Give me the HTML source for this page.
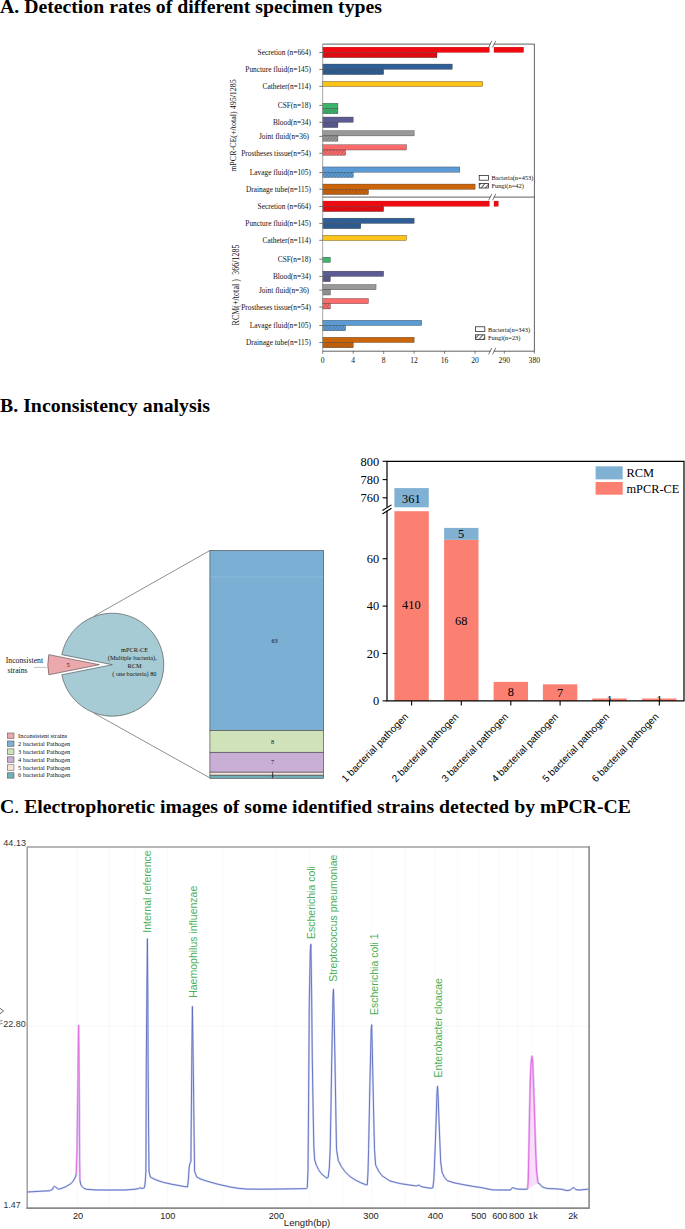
<!DOCTYPE html>
<html><head><meta charset="utf-8"><title>Figure</title>
<style>html,body{margin:0;padding:0;background:#fff;}body{width:685px;height:1229px;overflow:hidden;font-family:"Liberation Serif",serif;}svg{display:block;position:absolute;left:0;top:0;}text{white-space:pre;}</style></head><body>
<svg width="685" height="1229" viewBox="0 0 685 1229">
<rect width="685" height="1229" fill="#fff"/>
<defs>
<pattern id="hat" patternUnits="userSpaceOnUse" width="2.5" height="2.5" patternTransform="rotate(40)"><line x1="0" y1="0" x2="0" y2="2.5" stroke="#1a1a1a" stroke-width="0.5" stroke-opacity="0.85"/></pattern>
<pattern id="hat2" patternUnits="userSpaceOnUse" width="3.3" height="3.3" patternTransform="rotate(40)"><line x1="1" y1="0" x2="1" y2="3.3" stroke="#111" stroke-width="0.75"/></pattern>
<clipPath id="clipB"><rect x="380" y="455" width="310" height="246.3"/></clipPath>
</defs>
<text x="0" y="13.2" font-family="Liberation Serif, serif" font-size="18.6" font-weight="bold" fill="#000" textLength="382" lengthAdjust="spacingAndGlyphs">A. Detection rates of different specimen types</text>
<text x="0" y="412.1" font-family="Liberation Serif, serif" font-size="18.6" font-weight="bold" fill="#000" textLength="210" lengthAdjust="spacingAndGlyphs">B. Inconsistency analysis</text>
<text x="0" y="813.4" font-family="Liberation Serif, serif" font-size="18.6" font-weight="bold" fill="#000" textLength="631" lengthAdjust="spacingAndGlyphs">C<tspan font-weight="normal">.</tspan> Electrophoretic images of some identified strains detected by mPCR-CE</text>
<g id="panelA">
<rect x="322.7" y="47.15" width="166.60" height="5.25" fill="#ee0a10" stroke="#a00" stroke-width="0.3"/>
<rect x="494.0" y="47.15" width="29.63" height="5.25" fill="#ee0a10" stroke="#a00" stroke-width="0.3"/>
<rect x="322.7" y="52.40" width="114.30" height="5.25" fill="#ee0a10" stroke="#333" stroke-width="0.35"/>
<rect x="322.7" y="52.40" width="114.30" height="5.25" fill="url(#hat)"/>
<line x1="319.3" y1="52.50" x2="322.7" y2="52.50" stroke="#222" stroke-width="0.6"/>
<text x="310.9" y="55.35" font-family="Liberation Serif, serif" font-size="7.35" fill="#111" text-anchor="end">Secretion (n=664)</text>
<rect x="322.7" y="64.05" width="129.54" height="5.25" fill="#2f5f96" stroke="#333" stroke-width="0.35"/>
<rect x="322.7" y="69.30" width="60.96" height="5.25" fill="#2f5f96" stroke="#333" stroke-width="0.35"/>
<rect x="322.7" y="69.30" width="60.96" height="5.25" fill="url(#hat)"/>
<line x1="319.3" y1="69.40" x2="322.7" y2="69.40" stroke="#222" stroke-width="0.6"/>
<text x="310.9" y="72.25" font-family="Liberation Serif, serif" font-size="7.35" fill="#111" text-anchor="end">Puncture fluid(n=145)</text>
<rect x="322.7" y="81.35" width="160.02" height="5.25" fill="#fcc419" stroke="#333" stroke-width="0.35"/>
<line x1="319.3" y1="86.40" x2="322.7" y2="86.40" stroke="#222" stroke-width="0.6"/>
<text x="310.9" y="89.25" font-family="Liberation Serif, serif" font-size="7.35" fill="#111" text-anchor="end">Catheter(n=114)</text>
<rect x="322.7" y="103.25" width="15.24" height="5.25" fill="#3bb56a" stroke="#333" stroke-width="0.35"/>
<rect x="322.7" y="108.50" width="15.24" height="5.25" fill="#3bb56a" stroke="#333" stroke-width="0.35"/>
<rect x="322.7" y="108.50" width="15.24" height="5.25" fill="url(#hat)"/>
<line x1="319.3" y1="105.40" x2="322.7" y2="105.40" stroke="#222" stroke-width="0.6"/>
<text x="310.9" y="108.25" font-family="Liberation Serif, serif" font-size="7.35" fill="#111" text-anchor="end">CSF(n=18)</text>
<rect x="322.7" y="117.05" width="30.48" height="5.25" fill="#5c5b94" stroke="#333" stroke-width="0.35"/>
<rect x="322.7" y="122.30" width="15.24" height="5.25" fill="#5c5b94" stroke="#333" stroke-width="0.35"/>
<rect x="322.7" y="122.30" width="15.24" height="5.25" fill="url(#hat)"/>
<line x1="319.3" y1="122.30" x2="322.7" y2="122.30" stroke="#222" stroke-width="0.6"/>
<text x="310.9" y="125.15" font-family="Liberation Serif, serif" font-size="7.35" fill="#111" text-anchor="end">Blood(n=34)</text>
<rect x="322.7" y="130.65" width="91.44" height="5.25" fill="#999999" stroke="#333" stroke-width="0.35"/>
<rect x="322.7" y="135.90" width="15.24" height="5.25" fill="#999999" stroke="#333" stroke-width="0.35"/>
<rect x="322.7" y="135.90" width="15.24" height="5.25" fill="url(#hat)"/>
<line x1="319.3" y1="136.40" x2="322.7" y2="136.40" stroke="#222" stroke-width="0.6"/>
<text x="310.9" y="139.25" font-family="Liberation Serif, serif" font-size="7.35" fill="#111" text-anchor="end">Joint fluid(n=36) </text>
<rect x="322.7" y="144.75" width="83.82" height="5.25" fill="#fb6b6b" stroke="#333" stroke-width="0.35"/>
<rect x="322.7" y="150.00" width="22.86" height="5.25" fill="#fb6b6b" stroke="#333" stroke-width="0.35"/>
<rect x="322.7" y="150.00" width="22.86" height="5.25" fill="url(#hat)"/>
<line x1="319.3" y1="153.30" x2="322.7" y2="153.30" stroke="#222" stroke-width="0.6"/>
<text x="310.9" y="156.15" font-family="Liberation Serif, serif" font-size="7.35" fill="#111" text-anchor="end">Prostheses tissue(n=54)</text>
<rect x="322.7" y="166.95" width="137.16" height="5.25" fill="#5b9bd5" stroke="#333" stroke-width="0.35"/>
<rect x="322.7" y="172.20" width="30.48" height="5.25" fill="#5b9bd5" stroke="#333" stroke-width="0.35"/>
<rect x="322.7" y="172.20" width="30.48" height="5.25" fill="url(#hat)"/>
<line x1="319.3" y1="172.60" x2="322.7" y2="172.60" stroke="#222" stroke-width="0.6"/>
<text x="310.9" y="175.45" font-family="Liberation Serif, serif" font-size="7.35" fill="#111" text-anchor="end">Lavage fluid(n=105)</text>
<rect x="322.7" y="184.05" width="152.40" height="5.25" fill="#cc6409" stroke="#333" stroke-width="0.35"/>
<rect x="322.7" y="189.30" width="45.72" height="5.25" fill="#cc6409" stroke="#333" stroke-width="0.35"/>
<rect x="322.7" y="189.30" width="45.72" height="5.25" fill="url(#hat)"/>
<line x1="319.3" y1="189.20" x2="322.7" y2="189.20" stroke="#222" stroke-width="0.6"/>
<text x="310.9" y="192.05" font-family="Liberation Serif, serif" font-size="7.35" fill="#111" text-anchor="end">Drainage tube(n=115)</text>
<rect x="322.7" y="201.05" width="166.60" height="5.25" fill="#ee0a10" stroke="#a00" stroke-width="0.3"/>
<rect x="494.0" y="201.05" width="4.30" height="5.25" fill="#ee0a10" stroke="#a00" stroke-width="0.3"/>
<rect x="322.7" y="206.30" width="60.96" height="5.25" fill="#ee0a10" stroke="#333" stroke-width="0.35"/>
<rect x="322.7" y="206.30" width="60.96" height="5.25" fill="url(#hat)"/>
<line x1="319.3" y1="206.50" x2="322.7" y2="206.50" stroke="#222" stroke-width="0.6"/>
<text x="310.9" y="209.35" font-family="Liberation Serif, serif" font-size="7.35" fill="#111" text-anchor="end">Secretion (n=664)</text>
<rect x="322.7" y="218.15" width="91.44" height="5.25" fill="#2f5f96" stroke="#333" stroke-width="0.35"/>
<rect x="322.7" y="223.40" width="38.10" height="5.25" fill="#2f5f96" stroke="#333" stroke-width="0.35"/>
<rect x="322.7" y="223.40" width="38.10" height="5.25" fill="url(#hat)"/>
<line x1="319.3" y1="223.40" x2="322.7" y2="223.40" stroke="#222" stroke-width="0.6"/>
<text x="310.9" y="226.25" font-family="Liberation Serif, serif" font-size="7.35" fill="#111" text-anchor="end">Puncture fluid(n=145)</text>
<rect x="322.7" y="235.35" width="83.82" height="5.25" fill="#fcc419" stroke="#333" stroke-width="0.35"/>
<line x1="319.3" y1="240.30" x2="322.7" y2="240.30" stroke="#222" stroke-width="0.6"/>
<text x="310.9" y="243.15" font-family="Liberation Serif, serif" font-size="7.35" fill="#111" text-anchor="end">Catheter(n=114)</text>
<rect x="322.7" y="257.18" width="7.62" height="5.25" fill="#3bb56a" stroke="#333" stroke-width="0.35"/>
<line x1="319.3" y1="259.20" x2="322.7" y2="259.20" stroke="#222" stroke-width="0.6"/>
<text x="310.9" y="262.05" font-family="Liberation Serif, serif" font-size="7.35" fill="#111" text-anchor="end">CSF(n=18)</text>
<rect x="322.7" y="271.15" width="60.96" height="5.25" fill="#5c5b94" stroke="#333" stroke-width="0.35"/>
<rect x="322.7" y="276.40" width="7.62" height="5.25" fill="#5c5b94" stroke="#333" stroke-width="0.35"/>
<rect x="322.7" y="276.40" width="7.62" height="5.25" fill="url(#hat)"/>
<line x1="319.3" y1="276.40" x2="322.7" y2="276.40" stroke="#222" stroke-width="0.6"/>
<text x="310.9" y="279.25" font-family="Liberation Serif, serif" font-size="7.35" fill="#111" text-anchor="end">Blood(n=34)</text>
<rect x="322.7" y="284.50" width="53.34" height="5.25" fill="#999999" stroke="#333" stroke-width="0.35"/>
<rect x="322.7" y="289.75" width="7.62" height="5.25" fill="#999999" stroke="#333" stroke-width="0.35"/>
<rect x="322.7" y="289.75" width="7.62" height="5.25" fill="url(#hat)"/>
<line x1="319.3" y1="290.10" x2="322.7" y2="290.10" stroke="#222" stroke-width="0.6"/>
<text x="310.9" y="292.95" font-family="Liberation Serif, serif" font-size="7.35" fill="#111" text-anchor="end">Joint fluid(n=36) </text>
<rect x="322.7" y="298.45" width="45.72" height="5.25" fill="#fb6b6b" stroke="#333" stroke-width="0.35"/>
<rect x="322.7" y="303.70" width="7.62" height="5.25" fill="#fb6b6b" stroke="#333" stroke-width="0.35"/>
<rect x="322.7" y="303.70" width="7.62" height="5.25" fill="url(#hat)"/>
<line x1="319.3" y1="307.00" x2="322.7" y2="307.00" stroke="#222" stroke-width="0.6"/>
<text x="310.9" y="309.85" font-family="Liberation Serif, serif" font-size="7.35" fill="#111" text-anchor="end">Prostheses tissue(n=54)</text>
<rect x="322.7" y="320.25" width="99.06" height="5.25" fill="#5b9bd5" stroke="#333" stroke-width="0.35"/>
<rect x="322.7" y="325.50" width="22.86" height="5.25" fill="#5b9bd5" stroke="#333" stroke-width="0.35"/>
<rect x="322.7" y="325.50" width="22.86" height="5.25" fill="url(#hat)"/>
<line x1="319.3" y1="325.50" x2="322.7" y2="325.50" stroke="#222" stroke-width="0.6"/>
<text x="310.9" y="328.35" font-family="Liberation Serif, serif" font-size="7.35" fill="#111" text-anchor="end">Lavage fluid(n=105)</text>
<rect x="322.7" y="337.25" width="91.44" height="5.25" fill="#cc6409" stroke="#333" stroke-width="0.35"/>
<rect x="322.7" y="342.50" width="30.48" height="5.25" fill="#cc6409" stroke="#333" stroke-width="0.35"/>
<rect x="322.7" y="342.50" width="30.48" height="5.25" fill="url(#hat)"/>
<line x1="319.3" y1="342.50" x2="322.7" y2="342.50" stroke="#222" stroke-width="0.6"/>
<text x="310.9" y="345.35" font-family="Liberation Serif, serif" font-size="7.35" fill="#111" text-anchor="end">Drainage tube(n=115)</text>
<path d="M322.7 44.1 V351.2" fill="none" stroke="#8e8e8e" stroke-width="0.8"/>
<path d="M322.7 44.1 H534.4 V351.2 H322.7 M322.7 197.1 H534.4" fill="none" stroke="#3a3a3a" stroke-width="0.8"/>
<rect x="490.4" y="43.1" width="3.4" height="2" fill="#fff"/>
<path d="M488.6 47.300000000000004 L491.9 40.800000000000004 M492.5 47.300000000000004 L495.8 40.800000000000004" stroke="#333" stroke-width="0.65" fill="none"/>
<rect x="490.4" y="196.1" width="3.4" height="2" fill="#fff"/>
<path d="M488.6 200.29999999999998 L491.9 193.79999999999998 M492.5 200.29999999999998 L495.8 193.79999999999998" stroke="#333" stroke-width="0.65" fill="none"/>
<rect x="490.4" y="350.2" width="3.4" height="2" fill="#fff"/>
<path d="M488.6 354.4 L491.9 347.9 M492.5 354.4 L495.8 347.9" stroke="#333" stroke-width="0.65" fill="none"/>
<line x1="322.7" y1="351.2" x2="322.7" y2="353.8" stroke="#333" stroke-width="0.6"/>
<text x="322.7" y="362.5" font-family="Liberation Serif, serif" font-size="7.6" fill="#111" text-anchor="middle">0</text>
<line x1="353.2" y1="351.2" x2="353.2" y2="353.8" stroke="#333" stroke-width="0.6"/>
<text x="353.2" y="362.5" font-family="Liberation Serif, serif" font-size="7.6" fill="#111" text-anchor="middle">4</text>
<line x1="383.7" y1="351.2" x2="383.7" y2="353.8" stroke="#333" stroke-width="0.6"/>
<text x="383.7" y="362.5" font-family="Liberation Serif, serif" font-size="7.6" fill="#111" text-anchor="middle">8</text>
<line x1="414.1" y1="351.2" x2="414.1" y2="353.8" stroke="#333" stroke-width="0.6"/>
<text x="414.1" y="362.5" font-family="Liberation Serif, serif" font-size="7.6" fill="#111" text-anchor="middle">12</text>
<line x1="444.6" y1="351.2" x2="444.6" y2="353.8" stroke="#333" stroke-width="0.6"/>
<text x="444.6" y="362.5" font-family="Liberation Serif, serif" font-size="7.6" fill="#111" text-anchor="middle">16</text>
<line x1="475.1" y1="351.2" x2="475.1" y2="353.8" stroke="#333" stroke-width="0.6"/>
<text x="475.1" y="362.5" font-family="Liberation Serif, serif" font-size="7.6" fill="#111" text-anchor="middle">20</text>
<line x1="504.3" y1="351.2" x2="504.3" y2="353.8" stroke="#333" stroke-width="0.6"/>
<text x="504.3" y="362.5" font-family="Liberation Serif, serif" font-size="7.6" fill="#111" text-anchor="middle">290</text>
<line x1="534.3" y1="351.2" x2="534.3" y2="353.8" stroke="#333" stroke-width="0.6"/>
<text x="534.3" y="362.5" font-family="Liberation Serif, serif" font-size="7.6" fill="#111" text-anchor="middle">380</text>
<text transform="translate(236.2,125.5) rotate(-90)" font-family="Liberation Serif, serif" font-size="8.0" fill="#111" text-anchor="middle">mPCR-CE(+/total) 495/1285</text>
<text transform="translate(238.8,325.4) rotate(-90) scale(1,1.28)" font-family="Liberation Serif, serif" font-size="7.8" fill="#111" textLength="80.9" lengthAdjust="spacing">RCM(+/total )  366/1285</text>
<rect x="479.2" y="175.4" width="9.3" height="4.8" fill="#fff" stroke="#222" stroke-width="0.75"/>
<rect x="479.2" y="183.4" width="9.3" height="4.6" fill="#fff" stroke="#222" stroke-width="0.75"/>
<rect x="479.2" y="183.4" width="9.3" height="4.6" fill="url(#hat2)"/>
<text x="491.4" y="180.3" font-family="Liberation Serif, serif" font-size="6.42" fill="#111">Bacteria(n=453)</text>
<text x="491.4" y="188.3" font-family="Liberation Serif, serif" font-size="6.42" fill="#111">Fungi(n=42)</text>
<rect x="475.5" y="326.8" width="9.3" height="4.8" fill="#fff" stroke="#222" stroke-width="0.75"/>
<rect x="475.5" y="334.8" width="9.3" height="4.6" fill="#fff" stroke="#222" stroke-width="0.75"/>
<rect x="475.5" y="334.8" width="9.3" height="4.6" fill="url(#hat2)"/>
<text x="488.0" y="331.7" font-family="Liberation Serif, serif" font-size="6.42" fill="#111">Bacteria(n=343)</text>
<text x="488.0" y="339.7" font-family="Liberation Serif, serif" font-size="6.42" fill="#111">Fungi(n=23)</text>
</g>
<g id="panelBL">
<path d="M93.9 616.2 L209.9 550.5 M93.9 713.1 L209.9 777.9" stroke="#444" stroke-width="0.6" fill="none"/>
<path d="M112.3 664.7 L61.79 654.65 A51.5 51.5 0 1 1 61.79 674.75 Z" fill="#a6cbd4" stroke="#444" stroke-width="0.6"/>
<path d="M99.3 664.7 L48.79 654.65 A51.5 51.5 0 0 0 48.79 674.75 Z" fill="#eba9ae" stroke="#444" stroke-width="0.6"/>
<text x="68" y="666.8" font-family="Liberation Serif, serif" font-size="6.5" fill="#111" text-anchor="middle">5</text>
<text x="24.4" y="663.2" font-family="Liberation Serif, serif" font-size="7.75" fill="#111" text-anchor="middle">Inconsistent</text>
<text x="17.5" y="672.6" font-family="Liberation Serif, serif" font-size="7.75" fill="#111" text-anchor="middle">strains</text>
<line x1="34" y1="667.4" x2="47" y2="667.4" stroke="#666" stroke-width="0.4"/>
<text x="134.6" y="652.4" font-family="Liberation Serif, serif" font-size="6.3" fill="#111" text-anchor="middle">mPCR-CE</text>
<text x="132.3" y="660.2" font-family="Liberation Serif, serif" font-size="6.3" fill="#111" text-anchor="middle">(Multiple bacteria),</text>
<text x="134.6" y="668.0" font-family="Liberation Serif, serif" font-size="6.3" fill="#111" text-anchor="middle">RCM</text>
<text x="134.4" y="675.8" font-family="Liberation Serif, serif" font-size="6.3" fill="#111" text-anchor="middle">( one bacteria) 80</text>
<rect x="7.3" y="733.00" width="6.7" height="5.4" fill="#eba9ae" stroke="#444" stroke-width="0.5"/>
<text x="18.1" y="737.70" font-family="Liberation Serif, serif" font-size="6.4" fill="#111">Inconsistent strains</text>
<rect x="7.3" y="740.95" width="6.7" height="5.4" fill="#7bafd4" stroke="#444" stroke-width="0.5"/>
<text x="18.1" y="745.65" font-family="Liberation Serif, serif" font-size="6.4" fill="#111">2 bacterial Pathogen</text>
<rect x="7.3" y="748.90" width="6.7" height="5.4" fill="#cfe2b9" stroke="#444" stroke-width="0.5"/>
<text x="18.1" y="753.60" font-family="Liberation Serif, serif" font-size="6.4" fill="#111">3 bacterial Pathogen</text>
<rect x="7.3" y="756.85" width="6.7" height="5.4" fill="#c9aed6" stroke="#444" stroke-width="0.5"/>
<text x="18.1" y="761.55" font-family="Liberation Serif, serif" font-size="6.4" fill="#111">4 bacterial Pathogen</text>
<rect x="7.3" y="764.80" width="6.7" height="5.4" fill="#f5e6dc" stroke="#444" stroke-width="0.5"/>
<text x="18.1" y="769.50" font-family="Liberation Serif, serif" font-size="6.4" fill="#111">5 bacterial Pathogen</text>
<rect x="7.3" y="772.75" width="6.7" height="5.4" fill="#6fb0b8" stroke="#444" stroke-width="0.5"/>
<text x="18.1" y="777.45" font-family="Liberation Serif, serif" font-size="6.4" fill="#111">6 bacterial Pathogen</text>
<rect x="209.9" y="550.50" width="113.7" height="179.90" fill="#7bafd4" stroke="#484848" stroke-width="0.65"/>
<text x="274.6" y="642.65" font-family="Liberation Serif, serif" font-size="6.3" fill="#111" text-anchor="middle">63</text>
<rect x="209.9" y="730.40" width="113.7" height="21.90" fill="#cfe2b9" stroke="#484848" stroke-width="0.65"/>
<text x="272.7" y="743.55" font-family="Liberation Serif, serif" font-size="6.3" fill="#111" text-anchor="middle">8</text>
<rect x="209.9" y="752.30" width="113.7" height="19.90" fill="#c9aed6" stroke="#484848" stroke-width="0.65"/>
<text x="272.7" y="764.45" font-family="Liberation Serif, serif" font-size="6.3" fill="#111" text-anchor="middle">7</text>
<rect x="209.9" y="772.20" width="113.7" height="3.00" fill="#f5e6dc" stroke="#484848" stroke-width="0.65"/>
<rect x="209.9" y="775.20" width="113.7" height="3.10" fill="#6fb0b8" stroke="#484848" stroke-width="0.65"/>
<line x1="210.20000000000002" y1="576.9" x2="323.3" y2="576.9" stroke="#9cc6e2" stroke-width="0.5"/>
<text x="272.6" y="776.9" font-family="Liberation Serif, serif" font-size="6.3" fill="#111" text-anchor="middle">1</text>
<line x1="272.6" y1="771.4" x2="272.6" y2="778.5" stroke="#222" stroke-width="0.6"/>
</g>
<g id="panelBR">
<rect x="394.4" y="511.2" width="34.4" height="189.7" fill="#fb8072"/>
<rect x="394.4" y="488.1" width="34.4" height="19.2" fill="#80b1d3"/>
<rect x="444.1" y="539.7" width="34.4" height="161.2" fill="#fb8072"/>
<rect x="444.1" y="527.9" width="34.4" height="11.9" fill="#80b1d3"/>
<rect x="493.6" y="681.9" width="34.4" height="19.0" fill="#fb8072"/>
<rect x="542.9" y="684.3" width="34.4" height="16.6" fill="#fb8072"/>
<rect x="592.3" y="698.5" width="34.4" height="2.4" fill="#fb8072"/>
<rect x="642.1" y="698.5" width="34.4" height="2.4" fill="#fb8072"/>
<text clip-path="url(#clipB)" x="411.3" y="503.1" font-family="Liberation Serif, serif" font-size="12.4" fill="#000" text-anchor="middle">361</text>
<text clip-path="url(#clipB)" x="411.3" y="609.4" font-family="Liberation Serif, serif" font-size="12.4" fill="#000" text-anchor="middle">410</text>
<text clip-path="url(#clipB)" x="461.2" y="538.4" font-family="Liberation Serif, serif" font-size="12.4" fill="#000" text-anchor="middle">5</text>
<text clip-path="url(#clipB)" x="461.2" y="624.5" font-family="Liberation Serif, serif" font-size="12.4" fill="#000" text-anchor="middle">68</text>
<text clip-path="url(#clipB)" x="510.8" y="696.0" font-family="Liberation Serif, serif" font-size="12.4" fill="#000" text-anchor="middle">8</text>
<text clip-path="url(#clipB)" x="560.1" y="696.6" font-family="Liberation Serif, serif" font-size="12.4" fill="#000" text-anchor="middle">7</text>
<text clip-path="url(#clipB)" x="609.5" y="703.6" font-family="Liberation Serif, serif" font-size="12.4" fill="#000" text-anchor="middle">1</text>
<text clip-path="url(#clipB)" x="659.3" y="703.6" font-family="Liberation Serif, serif" font-size="12.4" fill="#000" text-anchor="middle">1</text>
<path d="M387.0 700.9 V461.3 H684.0 V700.9 Z" fill="none" stroke="#000" stroke-width="1.2"/>
<rect x="385.5" y="507.3" width="3" height="3.6" fill="#fff"/>
<path d="M382.4 510.5 L391.5 504.9 M382.4 514.0 L391.5 508.2" stroke="#000" stroke-width="1.1" fill="none"/>
<line x1="382.6" y1="700.9" x2="387.0" y2="700.9" stroke="#000" stroke-width="1.1"/>
<text x="379.2" y="705.1" font-family="Liberation Serif, serif" font-size="12.4" fill="#000" text-anchor="end">0</text>
<line x1="382.6" y1="653.5" x2="387.0" y2="653.5" stroke="#000" stroke-width="1.1"/>
<text x="379.2" y="657.7" font-family="Liberation Serif, serif" font-size="12.4" fill="#000" text-anchor="end">20</text>
<line x1="382.6" y1="606.1" x2="387.0" y2="606.1" stroke="#000" stroke-width="1.1"/>
<text x="379.2" y="610.3" font-family="Liberation Serif, serif" font-size="12.4" fill="#000" text-anchor="end">40</text>
<line x1="382.6" y1="558.7" x2="387.0" y2="558.7" stroke="#000" stroke-width="1.1"/>
<text x="379.2" y="562.9" font-family="Liberation Serif, serif" font-size="12.4" fill="#000" text-anchor="end">60</text>
<line x1="382.6" y1="497.8" x2="387.0" y2="497.8" stroke="#000" stroke-width="1.1"/>
<text x="379.2" y="502.0" font-family="Liberation Serif, serif" font-size="12.4" fill="#000" text-anchor="end">760</text>
<line x1="382.6" y1="479.6" x2="387.0" y2="479.6" stroke="#000" stroke-width="1.1"/>
<text x="379.2" y="483.8" font-family="Liberation Serif, serif" font-size="12.4" fill="#000" text-anchor="end">780</text>
<line x1="382.6" y1="461.3" x2="387.0" y2="461.3" stroke="#000" stroke-width="1.1"/>
<text x="379.2" y="465.5" font-family="Liberation Serif, serif" font-size="12.4" fill="#000" text-anchor="end">800</text>
<line x1="411.6" y1="700.9" x2="411.6" y2="705.6" stroke="#000" stroke-width="1.1"/>
<text transform="translate(409.0,717.2) rotate(-46)" font-family="Liberation Sans, sans-serif" font-size="10.05" fill="#000" text-anchor="end">1 bacterial pathogen</text>
<line x1="461.3" y1="700.9" x2="461.3" y2="705.6" stroke="#000" stroke-width="1.1"/>
<text transform="translate(459.2,717.2) rotate(-46)" font-family="Liberation Sans, sans-serif" font-size="10.05" fill="#000" text-anchor="end">2 bacterial pathogen</text>
<line x1="510.8" y1="700.9" x2="510.8" y2="705.6" stroke="#000" stroke-width="1.1"/>
<text transform="translate(508.9,717.2) rotate(-46)" font-family="Liberation Sans, sans-serif" font-size="10.05" fill="#000" text-anchor="end">3 bacterial pathogen</text>
<line x1="560.1" y1="700.9" x2="560.1" y2="705.6" stroke="#000" stroke-width="1.1"/>
<text transform="translate(559.0,717.2) rotate(-46)" font-family="Liberation Sans, sans-serif" font-size="10.05" fill="#000" text-anchor="end">4 bacterial pathogen</text>
<line x1="609.5" y1="700.9" x2="609.5" y2="705.6" stroke="#000" stroke-width="1.1"/>
<text transform="translate(609.8,717.2) rotate(-46)" font-family="Liberation Sans, sans-serif" font-size="10.05" fill="#000" text-anchor="end">5 bacterial pathogen</text>
<line x1="659.3" y1="700.9" x2="659.3" y2="705.6" stroke="#000" stroke-width="1.1"/>
<text transform="translate(659.3,717.2) rotate(-46)" font-family="Liberation Sans, sans-serif" font-size="10.05" fill="#000" text-anchor="end">6 bacterial pathogen</text>
<rect x="595.6" y="466.3" width="27.1" height="13.1" fill="#80b1d3"/>
<rect x="595.6" y="482.0" width="27.1" height="12.7" fill="#fb8072"/>
<text x="626.4" y="477.4" font-family="Liberation Serif, serif" font-size="12.4" fill="#000">RCM</text>
<text x="626.4" y="492.6" font-family="Liberation Serif, serif" font-size="12.4" fill="#000">mPCR-CE</text>
</g>
<g id="panelC">
<line x1="77.5" y1="847.1" x2="77.5" y2="1208.1" stroke="#eeeeee" stroke-width="0.7" stroke-dasharray="1 1"/>
<line x1="109" y1="847.1" x2="109" y2="1208.1" stroke="#eeeeee" stroke-width="0.7" stroke-dasharray="1 1"/>
<line x1="135" y1="847.1" x2="135" y2="1208.1" stroke="#eeeeee" stroke-width="0.7" stroke-dasharray="1 1"/>
<line x1="167.5" y1="847.1" x2="167.5" y2="1208.1" stroke="#eeeeee" stroke-width="0.7" stroke-dasharray="1 1"/>
<line x1="222.5" y1="847.1" x2="222.5" y2="1208.1" stroke="#eeeeee" stroke-width="0.7" stroke-dasharray="1 1"/>
<line x1="276" y1="847.1" x2="276" y2="1208.1" stroke="#eeeeee" stroke-width="0.7" stroke-dasharray="1 1"/>
<line x1="310" y1="847.1" x2="310" y2="1208.1" stroke="#eeeeee" stroke-width="0.7" stroke-dasharray="1 1"/>
<line x1="343" y1="847.1" x2="343" y2="1208.1" stroke="#eeeeee" stroke-width="0.7" stroke-dasharray="1 1"/>
<line x1="371.5" y1="847.1" x2="371.5" y2="1208.1" stroke="#eeeeee" stroke-width="0.7" stroke-dasharray="1 1"/>
<line x1="405.4" y1="847.1" x2="405.4" y2="1208.1" stroke="#eeeeee" stroke-width="0.7" stroke-dasharray="1 1"/>
<line x1="435.4" y1="847.1" x2="435.4" y2="1208.1" stroke="#eeeeee" stroke-width="0.7" stroke-dasharray="1 1"/>
<line x1="457.8" y1="847.1" x2="457.8" y2="1208.1" stroke="#eeeeee" stroke-width="0.7" stroke-dasharray="1 1"/>
<line x1="478.8" y1="847.1" x2="478.8" y2="1208.1" stroke="#eeeeee" stroke-width="0.7" stroke-dasharray="1 1"/>
<line x1="499.3" y1="847.1" x2="499.3" y2="1208.1" stroke="#eeeeee" stroke-width="0.7" stroke-dasharray="1 1"/>
<line x1="517.7" y1="847.1" x2="517.7" y2="1208.1" stroke="#eeeeee" stroke-width="0.7" stroke-dasharray="1 1"/>
<line x1="531.7" y1="847.1" x2="531.7" y2="1208.1" stroke="#eeeeee" stroke-width="0.7" stroke-dasharray="1 1"/>
<line x1="557.7" y1="847.1" x2="557.7" y2="1208.1" stroke="#eeeeee" stroke-width="0.7" stroke-dasharray="1 1"/>
<line x1="572.7" y1="847.1" x2="572.7" y2="1208.1" stroke="#eeeeee" stroke-width="0.7" stroke-dasharray="1 1"/>
<line x1="27.2" y1="1026.3" x2="589.1" y2="1026.3" stroke="#e6e6e6" stroke-width="0.7" stroke-dasharray="1 1"/>
<path d="M27.2 1208.1 V847.1 H589.1" fill="none" stroke="#a0a0a0" stroke-width="1.5" stroke-linecap="square"/>
<path d="M589.1 847.1 V1208.1 H27.2" fill="none" stroke="#8a8a8a" stroke-width="1.6" stroke-linecap="square"/>
<polyline points="27,1192 35,1191.6 45,1191 49.3,1190.8 52.4,1189.5 53.5,1187 54.7,1186.2 56,1187.6 57.8,1188.6 58.5,1189.3 62,1188.2 66,1186.6 70,1184.2 73,1181.5 75.5,1177 76.3,1173.8 77.0,1150 77.7,1100 78.3,1050 78.6,1025.5 78.9,1050 79.3,1100 79.6,1160 79.9,1180 80.6,1184 81.7,1186.2 84,1188.3 86.4,1189.3 95,1189.9 110,1190.1 125,1190 135,1189.2 138.5,1188.6 139.8,1187.8 141,1188.4 144.1,1188 144.6,1186.9 145.4,1180 145.9,1171.5 146.3,1061.7 146.9,990 147.4,938.8 147.8,990 148.1,1061.7 148.6,1130 149,1171.5 150.3,1177 154,1179 159,1181 163.9,1182.5 172,1184.3 183.7,1186.4 187.6,1186.9 188.5,1178 189.1,1168 189.8,1163.8 190.9,1161.6 191.4,1105.6 191.9,1050 192.4,1006.4 192.9,1040 193.5,1083.7 194.1,1135 194.6,1171.5 196.8,1177 201,1179.2 207.8,1181.4 217,1184 229.8,1186.9 238,1188.3 246,1189 260,1189.2 280,1189 295,1188.8 306.5,1188.6 307.3,1187.5 308,1170 308.6,1100 309.3,1000 310.3,950 310.9,944.3 311.6,990 312.3,1060 313.3,1120 313.9,1148 314.7,1160 316.5,1165.5 318.5,1169.5 320.8,1173 324,1176 327.2,1178.2 328.2,1177 329.3,1168 330.2,1149.5 331.0,1105 331.7,1061.7 333,995.9 333.5,989.3 334.2,1020 335,1061.7 335.8,1110 336.5,1149.5 338.3,1160.5 341.3,1166.5 344.9,1171.5 350,1176.5 355.9,1180.3 361,1182.8 365.7,1184.7 367.3,1184.7 368.0,1172 368.6,1149.5 369.9,1083.7 371.2,1028.8 371.7,1024.8 372.3,1050 373,1083.7 373.8,1120 374.5,1149.5 375.6,1164.9 378.5,1171 382.2,1175.9 390,1181 400.2,1183.6 408,1184.8 414.5,1185.7 416.5,1185.9 418.6,1185.1 421.7,1186.7 426,1187.6 430.9,1188.3 432.9,1187.7 433.9,1178.5 435.4,1141.7 437,1092.7 437.6,1086.2 438.3,1100 439,1121.3 440.7,1162.2 442.1,1172.4 444.5,1177.5 447.2,1180.6 454,1182.8 461.5,1184.3 472,1186.2 482,1187.7 488,1189 492.2,1189.8 500,1190 510.6,1190 511.6,1188.4 512.6,1187.7 514,1188 515.7,1188.8 520,1189.2 526.9,1189.2 527.6,1189 528.3,1180 528.9,1150 529.5,1120 530.2,1085 531.0,1064 531.9,1056.3 532.7,1062 533.5,1085 534.7,1120 535.6,1150 536.6,1172 538,1183 540,1184.2 541.8,1186.6 545,1187.9 547.9,1188.6 555,1188.8 561.9,1189.3 565,1190.2 568,1190.6 570.5,1189.8 572.5,1188.2 573.7,1187.5 574.8,1188.5 575.9,1189.7 580,1190 584,1189.6 588.6,1189.1" fill="none" stroke="#a9b5ec" stroke-width="2.0" stroke-linejoin="round" stroke-opacity="0.55"/>
<polyline points="76.3,1173.8 77.0,1150 77.7,1100 78.3,1050 78.6,1025.5 78.9,1050 79.3,1100 79.6,1160 79.9,1180" fill="none" stroke="#f3b0f3" stroke-width="2.0" stroke-linejoin="round" stroke-opacity="0.6"/>
<polyline points="527.6,1189 528.3,1180 528.9,1150 529.5,1120 530.2,1085 531.0,1064 531.9,1056.3 532.7,1062 533.5,1085 534.7,1120 535.6,1150 536.6,1172 538,1183" fill="none" stroke="#f3b0f3" stroke-width="2.4" stroke-linejoin="round" stroke-opacity="0.6"/>
<polygon points="527.6,1189 528.3,1180 528.9,1150 529.5,1120 530.2,1085 531.0,1064 531.9,1056.3 532.7,1062 533.5,1085 534.7,1120 535.6,1150 536.6,1172 538,1183" fill="#f5c0f5" fill-opacity="0.5"/>
<polyline points="27,1192 35,1191.6 45,1191 49.3,1190.8 52.4,1189.5 53.5,1187 54.7,1186.2 56,1187.6 57.8,1188.6 58.5,1189.3 62,1188.2 66,1186.6 70,1184.2 73,1181.5 75.5,1177 76.3,1173.8" fill="none" stroke="#5c6cbc" stroke-width="0.9" stroke-linejoin="round"/>
<polyline points="79.9,1180 80.6,1184 81.7,1186.2 84,1188.3 86.4,1189.3 95,1189.9 110,1190.1 125,1190 135,1189.2 138.5,1188.6 139.8,1187.8 141,1188.4 144.1,1188 144.6,1186.9 145.4,1180 145.9,1171.5 146.3,1061.7 146.9,990 147.4,938.8 147.8,990 148.1,1061.7 148.6,1130 149,1171.5 150.3,1177 154,1179 159,1181 163.9,1182.5 172,1184.3 183.7,1186.4 187.6,1186.9 188.5,1178 189.1,1168 189.8,1163.8 190.9,1161.6 191.4,1105.6 191.9,1050 192.4,1006.4 192.9,1040 193.5,1083.7 194.1,1135 194.6,1171.5 196.8,1177 201,1179.2 207.8,1181.4 217,1184 229.8,1186.9 238,1188.3 246,1189 260,1189.2 280,1189 295,1188.8 306.5,1188.6 307.3,1187.5 308,1170 308.6,1100 309.3,1000 310.3,950 310.9,944.3 311.6,990 312.3,1060 313.3,1120 313.9,1148 314.7,1160 316.5,1165.5 318.5,1169.5 320.8,1173 324,1176 327.2,1178.2 328.2,1177 329.3,1168 330.2,1149.5 331.0,1105 331.7,1061.7 333,995.9 333.5,989.3 334.2,1020 335,1061.7 335.8,1110 336.5,1149.5 338.3,1160.5 341.3,1166.5 344.9,1171.5 350,1176.5 355.9,1180.3 361,1182.8 365.7,1184.7 367.3,1184.7 368.0,1172 368.6,1149.5 369.9,1083.7 371.2,1028.8 371.7,1024.8 372.3,1050 373,1083.7 373.8,1120 374.5,1149.5 375.6,1164.9 378.5,1171 382.2,1175.9 390,1181 400.2,1183.6 408,1184.8 414.5,1185.7 416.5,1185.9 418.6,1185.1 421.7,1186.7 426,1187.6 430.9,1188.3 432.9,1187.7 433.9,1178.5 435.4,1141.7 437,1092.7 437.6,1086.2 438.3,1100 439,1121.3 440.7,1162.2 442.1,1172.4 444.5,1177.5 447.2,1180.6 454,1182.8 461.5,1184.3 472,1186.2 482,1187.7 488,1189 492.2,1189.8 500,1190 510.6,1190 511.6,1188.4 512.6,1187.7 514,1188 515.7,1188.8 520,1189.2 526.9,1189.2 527.6,1189" fill="none" stroke="#5c6cbc" stroke-width="0.9" stroke-linejoin="round"/>
<polyline points="538,1183 540,1184.2 541.8,1186.6 545,1187.9 547.9,1188.6 555,1188.8 561.9,1189.3 565,1190.2 568,1190.6 570.5,1189.8 572.5,1188.2 573.7,1187.5 574.8,1188.5 575.9,1189.7 580,1190 584,1189.6 588.6,1189.1" fill="none" stroke="#5c6cbc" stroke-width="0.9" stroke-linejoin="round"/>
<polyline points="76.3,1173.8 77.0,1150 77.7,1100 78.3,1050 78.6,1025.5 78.9,1050 79.3,1100 79.6,1160 79.9,1180" fill="none" stroke="#e272e2" stroke-width="1.0" stroke-linejoin="round"/>
<polyline points="527.6,1189 528.3,1180 528.9,1150 529.5,1120 530.2,1085 531.0,1064 531.9,1056.3 532.7,1062 533.5,1085 534.7,1120 535.6,1150 536.6,1172 538,1183" fill="none" stroke="#e272e2" stroke-width="1.1" stroke-linejoin="round"/>
<text transform="translate(150.9,932.7) rotate(-90)" font-family="Liberation Sans, sans-serif" font-size="10.5" fill="#4caf57">Internal reference</text>
<text transform="translate(197.0,997.8) rotate(-90)" font-family="Liberation Sans, sans-serif" font-size="10.5" fill="#4caf57">Haemophilus influenzae</text>
<text transform="translate(315.2,939) rotate(-90)" font-family="Liberation Sans, sans-serif" font-size="10.5" fill="#4caf57">Escherichia coli</text>
<text transform="translate(337.2,981.8) rotate(-90)" font-family="Liberation Sans, sans-serif" font-size="10.5" fill="#4caf57">Streptococcus pneumoniae</text>
<text transform="translate(377.7,1015) rotate(-90)" font-family="Liberation Sans, sans-serif" font-size="10.5" fill="#4caf57">Escherichia coli 1</text>
<text transform="translate(441.6,1077.4) rotate(-90)" font-family="Liberation Sans, sans-serif" font-size="10.5" fill="#4caf57">Enterobacter cloacae</text>
<text x="3.3" y="846.4" font-family="Liberation Sans, sans-serif" font-size="9.5" fill="#333" textLength="22.7" lengthAdjust="spacingAndGlyphs">44.13</text>
<text x="3.3" y="1027.2" font-family="Liberation Sans, sans-serif" font-size="9.5" fill="#333" textLength="22.5" lengthAdjust="spacingAndGlyphs">22.80</text>
<text x="3.6" y="1208.0" font-family="Liberation Sans, sans-serif" font-size="9.5" fill="#333" textLength="17.0" lengthAdjust="spacingAndGlyphs">1.47</text>
<text x="78" y="1218.6" font-family="Liberation Sans, sans-serif" font-size="9.2" fill="#222" text-anchor="middle">20</text>
<text x="167.8" y="1218.6" font-family="Liberation Sans, sans-serif" font-size="9.2" fill="#222" text-anchor="middle">100</text>
<text x="276.4" y="1218.6" font-family="Liberation Sans, sans-serif" font-size="9.2" fill="#222" text-anchor="middle">200</text>
<text x="371" y="1218.6" font-family="Liberation Sans, sans-serif" font-size="9.2" fill="#222" text-anchor="middle">300</text>
<text x="435.4" y="1218.6" font-family="Liberation Sans, sans-serif" font-size="9.2" fill="#222" text-anchor="middle">400</text>
<text x="478.8" y="1218.6" font-family="Liberation Sans, sans-serif" font-size="9.2" fill="#222" text-anchor="middle">500</text>
<text x="499.8" y="1218.6" font-family="Liberation Sans, sans-serif" font-size="9.2" fill="#222" text-anchor="middle">600</text>
<text x="516.7" y="1218.6" font-family="Liberation Sans, sans-serif" font-size="9.2" fill="#222" text-anchor="middle">800</text>
<text x="532.9" y="1218.6" font-family="Liberation Sans, sans-serif" font-size="9.2" fill="#222" text-anchor="middle">1k</text>
<text x="573.1" y="1218.6" font-family="Liberation Sans, sans-serif" font-size="9.2" fill="#222" text-anchor="middle">2k</text>
<text x="307" y="1226.0" font-family="Liberation Sans, sans-serif" font-size="9.6" fill="#222" text-anchor="middle">Length(bp)</text>
<path d="M0 1008.4 L3.6 1011 L0 1013.8" fill="none" stroke="#555" stroke-width="0.9"/>
<path d="M0 1021.2 L2.6 1020.4 M0 1024.0 L2.6 1023.2" fill="none" stroke="#666" stroke-width="0.8"/>
</g>
</svg></body></html>
